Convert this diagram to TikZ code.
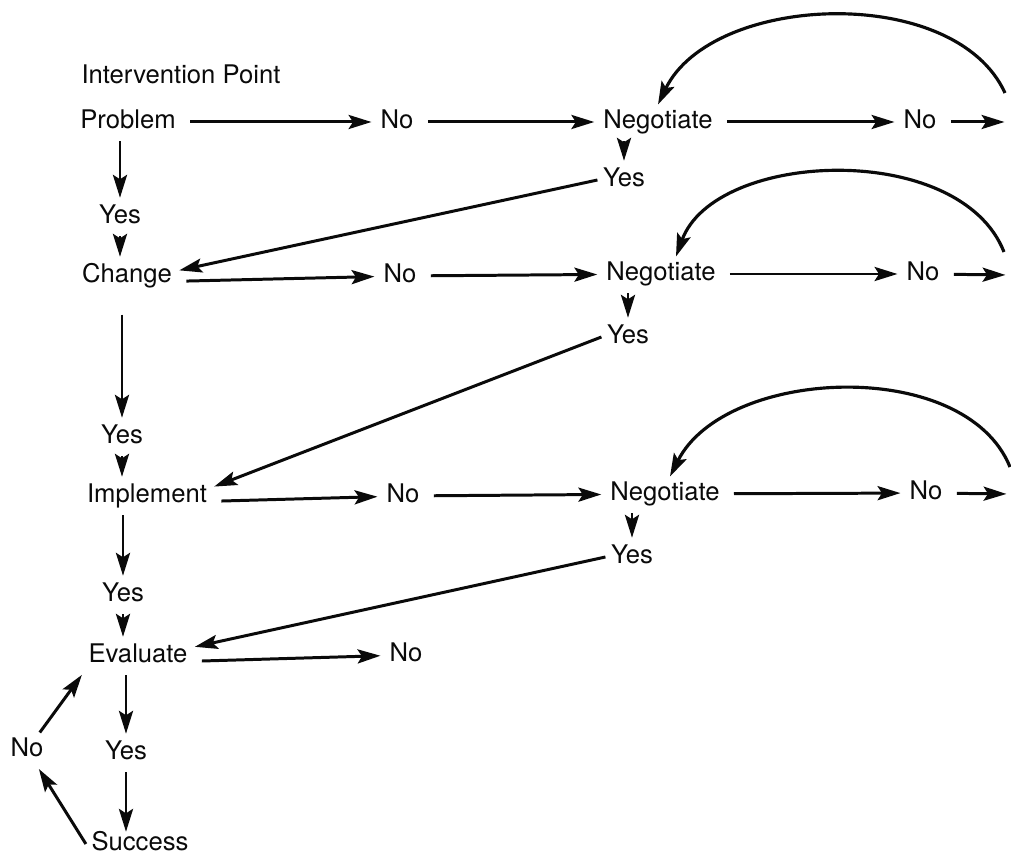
\documentclass[tikz,border=0pt]{standalone}
\usepackage{fontspec}
\setmainfont{TeX Gyre Heros}
\usepackage{tikz}
\usetikzlibrary{arrows.meta, calc}
\definecolor{ink}{RGB}{10, 10, 10}

\begin{document}
\begin{tikzpicture}[
    font=\fontsize{14.6}{17}\selectfont,
    word/.style={text=ink, inner sep=3pt, text height=10.5pt, text depth=3pt},
    flowarrow/.style={-{Stealth[length=13pt, width=8pt, inset=2.5pt]}, line width=1.7pt, draw=ink,
                      shorten <=5pt, shorten >=2pt},
    droparrow/.style={-{Stealth[length=13pt, width=8pt, inset=2.5pt]}, line width=1.7pt, draw=ink,
                      shorten <=1pt, shorten >=1pt},
    returnarrow/.style={-{Stealth[length=13pt, width=8pt, inset=2.5pt]}, line width=1.7pt, draw=ink,
                        shorten >=1pt},
    loopback/.style={-{Stealth[length=13pt, width=8pt, inset=2.5pt]}, line width=1.8pt, draw=ink},
]

\useasboundingbox (0, 0) rectangle (20.22, -17.1);

% ============================================================
% LEFT COLUMN (intervention points)
% ============================================================
\node[word] (intro) at (3.62, -1.54) {Intervention Point};

\node[word] (problem)   at (2.56, -2.44)  {Problem};
\node[word] (yes1)      at (2.40, -4.34)  {Yes};
\node[word] (change)    at (2.54, -5.52)  {Change};
\node[word] (yes2)      at (2.44, -8.74)  {Yes};
\node[word] (implement) at (2.94, -9.92)  {Implement};
\node[word] (yes3)      at (2.46, -11.9)  {Yes};
\node[word] (evaluate)  at (2.76, -13.12) {Evaluate};
\node[word] (yes4)      at (2.52, -15.06) {Yes};
\node[word] (success)   at (2.80, -16.88) {Success};
\node[word] (retry)     at (0.54, -15.0)  {No};

% ============================================================
% NEGOTIATION ROWS
% ============================================================
\node[word] (no1)    at (7.94, -2.44)  {No};
\node[word] (neg1)   at (13.16, -2.44) {Negotiate};
\node[word] (fail1)  at (18.40, -2.44) {No};
\node[word] (agree1) at (12.48, -3.60) {Yes};
\coordinate (exit1) at (20.16, -2.44);
\coordinate (back1) at (20.10, -1.86);

\node[word] (no2)    at (8.00, -5.52)  {No};
\node[word] (neg2)   at (13.22, -5.48) {Negotiate};
\node[word] (fail2)  at (18.46, -5.48) {No};
\node[word] (agree2) at (12.56, -6.74) {Yes};
\coordinate (exit2) at (20.18, -5.50);
\coordinate (back2) at (20.08, -5.04);

\node[word] (no3)    at (8.06, -9.92)  {No};
\node[word] (neg3)   at (13.30, -9.88) {Negotiate};
\node[word] (fail3)  at (18.52, -9.86) {No};
\node[word] (agree3) at (12.64, -11.14) {Yes};
\coordinate (exit3) at (20.20, -9.88);
\coordinate (back3) at (20.20, -9.34);

\node[word] (no4) at (8.12, -13.1) {No};

% ============================================================
% MAIN VERTICAL FLOW
% ============================================================
\draw[droparrow] (yes1 |- problem.south) -- (yes1.north);
\draw[droparrow] (yes1.south) -- (yes1 |- change.north);
\draw[droparrow, shorten <=12pt] (yes2 |- change.south) -- (yes2.north);
\draw[droparrow] (yes2.south) -- (yes2 |- implement.north);
\draw[droparrow] (yes3 |- implement.south) -- (yes3.north);
\draw[droparrow] (yes3.south) -- (yes3 |- evaluate.north);
\draw[droparrow] (yes4 |- evaluate.south) -- (yes4.north);
\draw[droparrow, shorten >=-3pt] (yes4.south) -- (yes4 |- success.north);

% evaluation loop back on the left
\draw[returnarrow] (success.west) -- (retry);
\draw[returnarrow] (retry) -- (evaluate.south west);

% ============================================================
% NO -> NEGOTIATE -> NO (rows)
% ============================================================
\draw[flowarrow] (problem) -- (no1);
\draw[flowarrow] (no1) -- (neg1);
\draw[flowarrow] (neg1) -- (fail1);
\draw[flowarrow] (fail1) -- (exit1);

\draw[flowarrow] ([yshift=-3pt]change.east) -- (no2);
\draw[flowarrow] (no2) -- (neg2);
\draw[flowarrow] (neg2) -- (fail2);
\draw[flowarrow] (fail2) -- (exit2);

\draw[flowarrow] ([yshift=-3pt]implement.east) -- (no3);
\draw[flowarrow] (no3) -- (neg3);
\draw[flowarrow] (neg3) -- (fail3);
\draw[flowarrow] (fail3) -- (exit3);

\draw[flowarrow] ([yshift=-3pt]evaluate.east) -- (no4);

% ============================================================
% NEGOTIATE -> YES -> back to the left column
% ============================================================
\draw[droparrow] (agree1 |- neg1.south) -- (agree1.north);
\draw[droparrow] (agree2 |- neg2.south) -- (agree2.north);
\draw[droparrow] (agree3 |- neg3.south) -- (agree3.north);

\draw[returnarrow] (agree1.west) -- ([yshift=3pt]change.east);
\draw[returnarrow] (agree2.west) -- ([yshift=5pt]implement.east);
\draw[returnarrow] (agree3.west) -- ([yshift=5pt]evaluate.east);

% ============================================================
% RENEGOTIATION ARCS
% ============================================================
\draw[loopback] (back1) .. controls (19.1, 0.34) and (14.24, 0.14) .. (neg1.north);
\draw[loopback] (back2) .. controls (19.2, -2.8) and (14.3, -3.0) .. ($(neg2.north)+(0.3, 0)$);
\draw[loopback] (back3) .. controls (19.3, -7.12) and (14.5, -7.34) .. ($(neg3.north)+(0.1, 0)$);

\end{tikzpicture}
\end{document}
